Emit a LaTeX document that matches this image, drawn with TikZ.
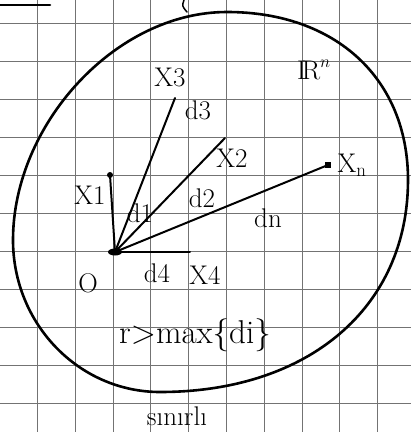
\documentclass[tikz,border=0pt]{standalone}
\usepackage{fontspec}
\usepackage{tikz}

\begin{document}
\begin{tikzpicture}[
        x=1pt, y=-1pt,
        gridline/.style={black!55, line width=0.8pt},
        pen/.style={draw, line width=2.6pt, line cap=round, line join=round},
        spoke/.style={draw, line width=2pt, line cap=round},
        hand/.style={inner sep=0pt, font=\fontsize{27}{29}\selectfont},
        bighand/.style={inner sep=0pt, font=\fontsize{33}{35}\selectfont}
    ]
    \useasboundingbox (0,0) rectangle (411,432);

    % Kareli kagit
    \foreach \gx in {37.3,75.1,...,400} \draw[gridline] (\gx,0) -- (\gx,432);
    \foreach \gy in {23.5,61.5,...,430} \draw[gridline] (0,\gy) -- (411,\gy);

    % ustteki kalinti cizgiler
    \draw[pen] (0,5) -- (50,5);
    \draw[pen, line width=1.5pt] (184,0) .. controls (182,6) .. (187,12);

    % sinir egrisi
    \coordinate (top)    at (227,12);
    \coordinate (right)  at (408,180);
    \coordinate (bottom) at (160,392);
    \coordinate (left)   at (13,240);
    \draw[pen] (top) .. controls (336,12) and (408,79) .. (right)
        .. controls (408,307) and (309,392) .. (bottom)
        .. controls (79,392) and (13,324) .. (left)
        .. controls (13,125) and (115,12) .. (top) -- cycle;

    % noktalar
    \coordinate (O)  at (115,252);
    \coordinate (X1) at (110,175);
    \coordinate (X3) at (175,98);
    \coordinate (X2) at (225,138);
    \coordinate (Xn) at (328,165);
    \coordinate (X4) at (190,252);

    \draw[spoke] (O) -- (X1);
    \draw[spoke] (O) -- (X3);
    \draw[spoke] (O) -- (X2);
    \draw[spoke] (O) -- (Xn);
    \draw[spoke] (O) -- (X4);
    \fill (X1) circle (3);
    \fill ([shift={(-3,-3)}]Xn) rectangle ([shift={(3,3)}]Xn);
    \fill (O) ellipse (7 and 3.5);

    % etiketler
    \node[hand] (lX3) at (170,77) {X3};
    \node[hand] (ld3) at (198,110) {d3};
    \node[hand] (lRn) at (314,70) {$\mathrm{I\!R}^{n}$};
    \node[hand] (lX2) at (232,158) {X2};
    \node[hand] (lXn) at (352,165) {X\textsubscript{n}};
    \node[hand] (lX1) at (90,195) {X1};
    \node[hand] (ld1) at (140,213) {d1};
    \node[hand] (ld2) at (202,198) {d2};
    \node[hand] (ldn) at (268,218) {dn};
    \node[hand] (lO)  at (88,283) {O};
    \node[hand] (ld4) at (157,273) {d4};
    \node[hand] (lX4) at (205,275) {X4};
    \node[bighand] (lmax) at (195,335) {r>max\{di\}};
    \node[hand] (lsin) at (177,416) {sınırlı};

\end{tikzpicture}
\end{document}
